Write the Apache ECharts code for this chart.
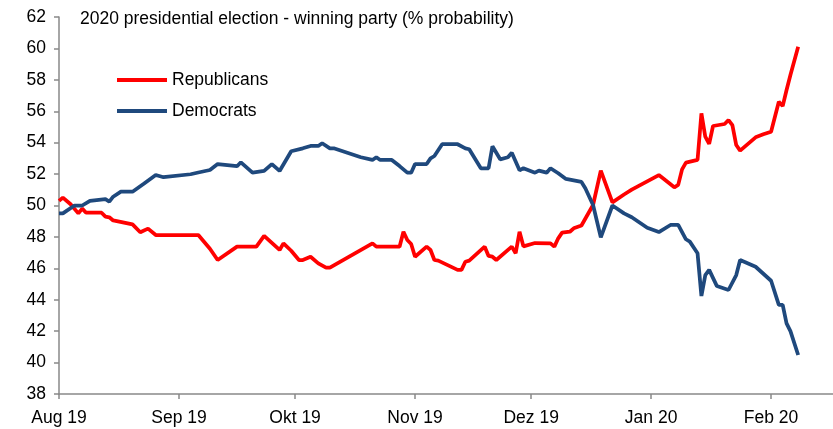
<!DOCTYPE html>
<html>
<head>
<meta charset="utf-8">
<script src="https://cdn.jsdelivr.net/npm/echarts@6/dist/echarts.min.js"></script>
<style>html,body{margin:0;padding:0;background:#fff}#c{width:833px;height:429px}</style>
</head>
<body>
<div id="c"></div>
<script>
var titleText = '2020 presidential election - winning party (% probability)';
var seriesNames = ['Republicans', 'Democrats'];

var repDates = ['2019-08-01','2019-08-02','2019-08-04','2019-08-06','2019-08-07','2019-08-08','2019-08-12','2019-08-13','2019-08-14','2019-08-15','2019-08-20','2019-08-22','2019-08-24','2019-08-26','2019-09-06','2019-09-09','2019-09-11','2019-09-16','2019-09-21','2019-09-23','2019-09-27','2019-09-28','2019-09-30','2019-10-02','2019-10-03','2019-10-05','2019-10-07','2019-10-09','2019-10-10','2019-10-21','2019-10-22','2019-10-28','2019-10-29','2019-10-30','2019-10-31','2019-11-01','2019-11-04','2019-11-05','2019-11-06','2019-11-07','2019-11-12','2019-11-13','2019-11-14','2019-11-15','2019-11-19','2019-11-20','2019-11-21','2019-11-22','2019-11-26','2019-11-27','2019-11-28','2019-11-29','2019-12-02','2019-12-06','2019-12-07','2019-12-08','2019-12-09','2019-12-11','2019-12-12','2019-12-14','2019-12-17','2019-12-19','2019-12-22','2019-12-25','2019-12-27','2020-01-03','2020-01-07','2020-01-08','2020-01-09','2020-01-10','2020-01-13','2020-01-14','2020-01-15','2020-01-16','2020-01-17','2020-01-20','2020-01-21','2020-01-22','2020-01-23','2020-01-24','2020-01-28','2020-01-30','2020-02-01','2020-02-03','2020-02-04','2020-02-05','2020-02-06','2020-02-08'];
var repValues = [50.29,50.5,50.08,49.5,49.8,49.54,49.54,49.29,49.25,49.05,48.8,48.3,48.53,48.12,48.12,47.25,46.53,47.38,47.38,48.07,47.17,47.59,47.12,46.53,46.53,46.74,46.32,46.04,46.04,47.59,47.38,47.38,48.33,47.8,47.55,46.74,47.38,47.17,46.53,46.49,45.9,45.9,46.42,46.49,47.38,46.79,46.74,46.53,47.38,46.96,48.33,47.4,47.61,47.59,47.38,47.91,48.27,48.33,48.55,48.73,50.03,52.22,50.2,50.7,51.01,51.94,51.16,51.31,52.3,52.73,52.9,55.87,54.38,53.92,55.06,55.19,55.44,55.12,53.85,53.49,54.34,54.53,54.7,56.6,56.33,57.35,58.31,60.1];

var demDates = ['2019-08-01','2019-08-02','2019-08-05','2019-08-07','2019-08-09','2019-08-13','2019-08-14','2019-08-15','2019-08-17','2019-08-20','2019-08-23','2019-08-26','2019-08-28','2019-09-04','2019-09-06','2019-09-09','2019-09-11','2019-09-16','2019-09-17','2019-09-20','2019-09-23','2019-09-25','2019-09-27','2019-09-30','2019-10-03','2019-10-05','2019-10-07','2019-10-08','2019-10-10','2019-10-11','2019-10-18','2019-10-21','2019-10-22','2019-10-23','2019-10-26','2019-10-28','2019-10-30','2019-10-31','2019-11-01','2019-11-04','2019-11-05','2019-11-06','2019-11-08','2019-11-12','2019-11-14','2019-11-15','2019-11-18','2019-11-20','2019-11-21','2019-11-23','2019-11-25','2019-11-26','2019-11-28','2019-11-29','2019-12-02','2019-12-03','2019-12-05','2019-12-06','2019-12-08','2019-12-10','2019-12-14','2019-12-15','2019-12-17','2019-12-19','2019-12-22','2019-12-25','2019-12-27','2019-12-31','2020-01-03','2020-01-06','2020-01-08','2020-01-10','2020-01-11','2020-01-13','2020-01-14','2020-01-15','2020-01-16','2020-01-18','2020-01-21','2020-01-23','2020-01-24','2020-01-28','2020-02-01','2020-02-03','2020-02-04','2020-02-05','2020-02-06','2020-02-08'];
var demValues = [49.5,49.5,50.0,50.0,50.3,50.4,50.25,50.56,50.88,50.88,51.4,51.94,51.8,51.99,52.1,52.26,52.64,52.5,52.75,52.09,52.2,52.64,52.2,53.45,53.64,53.79,53.79,53.96,53.64,53.64,53.07,52.9,53.07,52.9,52.9,52.51,52.09,52.09,52.64,52.64,53.0,53.15,53.9,53.9,53.64,53.58,52.37,52.37,53.77,52.94,53.07,53.36,52.24,52.37,52.09,52.22,52.09,52.37,52.05,51.69,51.5,51.1,50.03,47.97,50.0,49.5,49.25,48.58,48.31,48.76,48.76,47.85,47.7,46.96,44.24,45.57,45.9,44.87,44.62,45.57,46.53,46.1,45.21,43.67,43.67,42.5,42.0,40.48];

var xTickDates = ['2019-08-01','2019-09-01','2019-10-01','2019-11-01','2019-12-01','2020-01-01','2020-02-01'];
var xTickLabels = ['Aug 19','Sep 19','Okt 19','Nov 19','Dez 19','Jan 20','Feb 20'];
var xMin = '2019-08-01';
var xMax = '2020-02-17';
var yMin = 38, yMax = 62, yStep = 2;

function ts(s){ var p = s.split('-'); return Date.UTC(+p[0], +p[1]-1, +p[2]); }
function pairs(d, v){ return d.map(function(s, i){ return [ts(s), v[i]]; }); }
var tickTs = xTickDates.map(ts);
var labelMap = {};
tickTs.forEach(function(t, i){ labelMap[t] = xTickLabels[i]; });

var font = '"Liberation Sans", Arial, sans-serif';
var axisColor = '#898989';
var fs = 17.5;
var chart = echarts.init(document.getElementById('c'), null, {renderer: 'canvas'});
chart.setOption({
  animation: false,
  textStyle: {fontFamily: font},
  title: {
    text: titleText, left: 75, top: 5,
    textStyle: {fontSize: fs, fontWeight: 'normal', color: '#000', fontFamily: font}
  },
  legend: {
    orient: 'vertical', left: 112, top: 65,
    itemWidth: 50, itemHeight: 4, itemGap: 11, icon: 'rect',
    textStyle: {fontSize: fs, color: '#000', lineHeight: 20, fontFamily: font},
    data: seriesNames
  },
  grid: {left: 59, right: 0, top: 17, bottom: 35, containLabel: false},
  xAxis: {
    type: 'value', min: ts(xMin), max: ts(xMax),
    axisLine: {show: true, lineStyle: {color: axisColor, width: 1.5}},
    axisTick: {show: true, length: 5, lineStyle: {color: axisColor, width: 1.5}, customValues: tickTs},
    axisLabel: {
      customValues: tickTs, fontSize: fs, color: '#000', margin: 15, fontFamily: font,
      formatter: function(v){ return labelMap[v] || ''; }
    },
    splitLine: {show: false}
  },
  yAxis: {
    type: 'value', min: yMin, max: yMax, interval: yStep,
    axisLine: {show: true, lineStyle: {color: axisColor, width: 1.5}},
    axisTick: {show: true, length: 5, lineStyle: {color: axisColor, width: 1.5}},
    axisLabel: {fontSize: fs, color: '#000', margin: 13, fontFamily: font},
    splitLine: {show: false}
  },
  series: [
    {name: seriesNames[0], type: 'line', data: pairs(repDates, repValues), showSymbol: false, symbol: 'none',
     lineStyle: {color: '#FF0000', width: 3.75}, itemStyle: {color: '#FF0000'}},
    {name: seriesNames[1], type: 'line', data: pairs(demDates, demValues), showSymbol: false, symbol: 'none',
     lineStyle: {color: '#1F497D', width: 3.75}, itemStyle: {color: '#1F497D'}}
  ]
});
</script>
</body>
</html>
